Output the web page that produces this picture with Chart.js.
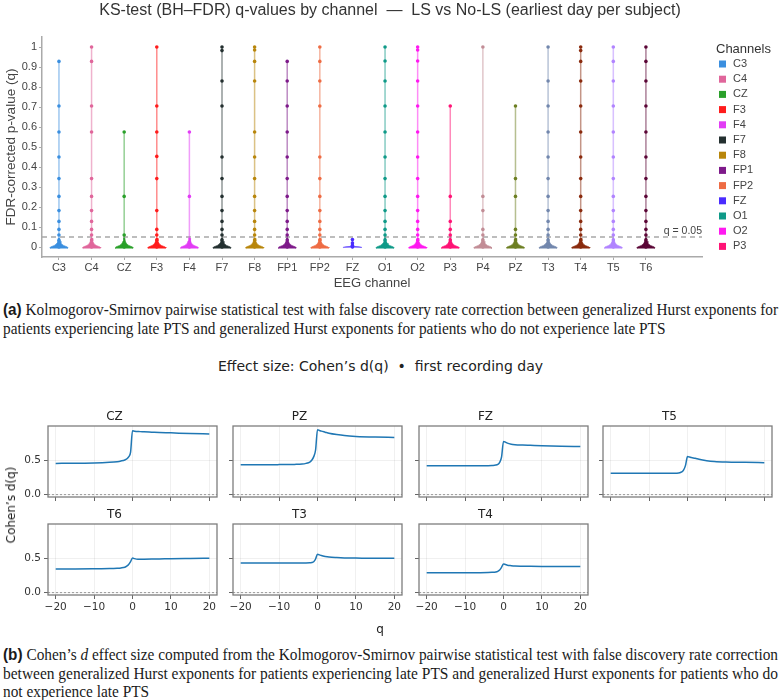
<!DOCTYPE html>
<html>
<head>
<meta charset="utf-8">
<script src="https://cdn.jsdelivr.net/npm/chart.js@4.4.1/dist/chart.umd.min.js"></script>
<style>
  body { margin: 0; background: #fff; }
  #page { position: relative; width: 780px; height: 700px; overflow: hidden; background: #fff; }
  .abs { position: absolute; }
  .cap { font-family: "Liberation Serif", "Times New Roman", serif; font-size: 17px; line-height: 18px;
         color: #1a1a1a; white-space: pre; transform-origin: 0 0; left: 3px; }
  .cap b { font-family: "Liberation Sans", Arial, sans-serif; font-weight: bold; }
  .mpl { font-family: "DejaVu Sans", sans-serif; color: #222; white-space: pre; }
</style>
</head>
<body>
<div id="page">
  <canvas id="topChart" class="abs" style="left:0;top:0" width="780" height="292"></canvas>

  <div id="capA1" class="abs cap" style="top:301px"><b>(a)</b> Kolmogorov-Smirnov pairwise statistical test with false discovery rate correction between generalized Hurst exponents for</div>
  <div id="capA2" class="abs cap" style="top:319.5px">patients experiencing late PTS and generalized Hurst exponents for patients who do not experience late PTS</div>

  <div id="supTitle" class="abs mpl" style="top:358px;font-size:14px;line-height:16px;transform-origin:0 0">Effect size: Cohen’s d(q)  •  first recording day</div>
  <div id="panels"></div>
  <div id="yLab" class="abs mpl" style="left:11px;top:505px;font-size:12px;transform:translate(-50%,-50%) rotate(-90deg)">Cohen’s d(q)</div>
  <div id="xLab" class="abs mpl" style="left:380px;top:629px;font-size:12px;transform:translate(-50%,-50%)">q</div>

  <div id="capB1" class="abs cap" style="top:646px"><b>(b)</b> Cohen’s <i>d</i> effect size computed from the Kolmogorov-Smirnov pairwise statistical test with false discovery rate correction</div>
  <div id="capB2" class="abs cap" style="top:664.5px">between generalized Hurst exponents for patients experiencing late PTS and generalized Hurst exponents for patients who do</div>
  <div id="capB3" class="abs cap" style="top:682.5px">not experience late PTS</div>
</div>

<script>
// ---- top panel: BH-FDR q-values per channel ----
const channels = ['C3', 'C4', 'CZ', 'F3', 'F4', 'F7', 'F8', 'FP1', 'FP2', 'FZ',
                  'O1', 'O2', 'P3', 'P4', 'PZ', 'T3', 'T4', 'T5', 'T6'];
const channelColors = ['#3b8fdf', '#e0669b', '#2aa02a', '#ff1c1c', '#e23cf5', '#243030', '#b8860b',
                       '#7e1a8a', '#ee6c44', '#4a2cff', '#0f9a88', '#ff19f0', '#ff1476', '#c28d96',
                       '#6d7f22', '#7287ad', '#8a2b0e', '#b184ff', '#5b0636'];

const qC3  = [0.928, 0.705, 0.575, 0.45, 0.342, 0.253, 0.182, 0.128, 0.088, 0.06, 0.033, 0.02, 0.01, 0.004, 0];
const qC4  = [1, 0.928, 0.705, 0.575, 0.342, 0.253, 0.182, 0.128, 0.088, 0.06, 0.035, 0.02, 0.01, 0.004, 0];
const qCZ  = [0.575, 0.253, 0.06, 0.012, 0.004, 0];
const qF3  = [1, 0.705, 0.575, 0.453, 0.342, 0.182, 0.088, 0.06, 0.035, 0.02, 0.01, 0.004, 0];
const qF4  = [0.575, 0.253, 0.025, 0.01, 0.004, 0];
const qF7  = [1, 0.982, 0.83, 0.705, 0.45, 0.342, 0.253, 0.182, 0.128, 0.088, 0.06, 0.035, 0.02, 0.01, 0.004, 0];
const qF8  = [1, 0.985, 0.928, 0.83, 0.575, 0.45, 0.342, 0.253, 0.182, 0.128, 0.088, 0.06, 0.035, 0.02, 0.01, 0.004, 0];
const qFP1 = [0.928, 0.83, 0.705, 0.575, 0.45, 0.342, 0.253, 0.182, 0.128, 0.088, 0.06, 0.035, 0.02, 0.01, 0.004, 0];
const qFP2 = [1, 0.928, 0.83, 0.705, 0.45, 0.342, 0.253, 0.182, 0.128, 0.088, 0.06, 0.035, 0.02, 0.01, 0.004, 0];
const qFZ  = [0.037, 0.02, 0.008, 0.003, 0];
const qO1  = [1, 0.93, 0.83, 0.705, 0.575, 0.45, 0.342, 0.253, 0.182, 0.128, 0.088, 0.06, 0.035, 0.02, 0.01, 0.004, 0];
const qO2  = [1, 0.985, 0.93, 0.83, 0.705, 0.575, 0.45, 0.342, 0.253, 0.182, 0.128, 0.088, 0.06, 0.035, 0.02, 0.01, 0.004, 0];
const qP3  = [0.705, 0.253, 0.128, 0.088, 0.06, 0.035, 0.02, 0.01, 0.004, 0];
const qP4  = [1, 0.253, 0.182, 0.088, 0.06, 0.035, 0.02, 0.01, 0.004, 0];
const qPZ  = [0.705, 0.342, 0.253, 0.088, 0.06, 0.035, 0.02, 0.01, 0.004, 0];
const qT3  = [1, 0.83, 0.705, 0.575, 0.45, 0.342, 0.253, 0.182, 0.128, 0.088, 0.06, 0.035, 0.02, 0.01, 0.004, 0];
const qT4  = [1, 0.982, 0.928, 0.83, 0.705, 0.575, 0.45, 0.342, 0.253, 0.182, 0.128, 0.088, 0.06, 0.035, 0.02, 0.01, 0.004, 0];
const qT5  = [1, 0.928, 0.83, 0.705, 0.575, 0.45, 0.342, 0.253, 0.182, 0.128, 0.088, 0.06, 0.035, 0.02, 0.01, 0.004, 0];
const qT6  = [1, 0.928, 0.83, 0.705, 0.575, 0.45, 0.342, 0.253, 0.182, 0.128, 0.088, 0.06, 0.035, 0.02, 0.01, 0.004, 0];
const channelQ = [qC3, qC4, qCZ, qF3, qF4, qF7, qF8, qFP1, qFP2, qFZ, qO1, qO2, qP3, qP4, qPZ, qT3, qT4, qT5, qT6];

// violin outline (half width in category units at each q level)
const violinQ    = [-0.008, -0.005, 0, 0.004, 0.008, 0.014, 0.02, 0.03, 0.045];
const violinHalf = [0.25, 0.28, 0.26, 0.2, 0.14, 0.09, 0.06, 0.035, 0.02];
const fzViolinQ    = [-0.003, -0.001, 0.001, 0.003, 0.006];
const fzViolinHalf = [0.27, 0.28, 0.2, 0.06, 0.02];

const qTicks = [0, 0.1, 0.2, 0.3, 0.4, 0.5, 0.6, 0.7, 0.8, 0.9, 1];
const qThreshold = 0.05;
const legendShown = 13; // legend in the source is cut after P3

const TOP_TITLE = 'KS-test (BH–FDR) q-values by channel  —  LS vs No-LS (earliest day per subject)';

function hexA(hex, a) {
    const n = parseInt(hex.slice(1), 16);
    return `rgba(${(n >> 16) & 255}, ${(n >> 8) & 255}, ${n & 255}, ${a})`;
}

function violinOutline(i, qs, hs) {
    const left = qs.map((q, k) => ({ x: i - hs[k], y: q }));
    const right = qs.map((q, k) => ({ x: i + hs[k], y: q })).reverse();
    return left.concat(right);
}

const topDatasets = [];
channels.forEach((ch, i) => {
    topDatasets.push({
        label: ch,
        data: channelQ[i].map(q => ({ x: i, y: q })),
        showLine: true,
        borderColor: hexA(channelColors[i], 0.5),
        borderWidth: 1.5,
        pointRadius: 1.8,
        pointBorderWidth: 0,
        pointBackgroundColor: channelColors[i],
        order: 0
    });
});
channels.forEach((ch, i) => {
    const isFZ = ch === 'FZ';
    topDatasets.push({
        label: ch + ' violin',
        data: violinOutline(i, isFZ ? fzViolinQ : violinQ, isFZ ? fzViolinHalf : violinHalf),
        showLine: true,
        fill: 'shape',
        backgroundColor: channelColors[i],
        borderColor: channelColors[i],
        borderWidth: 0.6,
        pointRadius: 0,
        tension: 0,
        order: 1
    });
});

const topDecor = {
    id: 'topDecor',
    beforeDatasetsDraw(chart) {
        const { ctx, chartArea, scales } = chart;
        const y = scales.y.getPixelForValue(qThreshold);
        ctx.save();
        ctx.strokeStyle = '#a8a8a8';
        ctx.lineWidth = 1.5;
        ctx.setLineDash([5, 4]);
        ctx.beginPath();
        ctx.moveTo(chartArea.left, y);
        ctx.lineTo(chartArea.right, y);
        ctx.stroke();
        ctx.restore();
    },
    afterDraw(chart) {
        const { ctx, chartArea, scales } = chart;
        ctx.save();
        // threshold label
        ctx.fillStyle = '#444';
        ctx.font = '10.5px "Liberation Sans", Arial, sans-serif';
        ctx.textAlign = 'right';
        ctx.textBaseline = 'bottom';
        ctx.fillText('q = ' + qThreshold, chartArea.right, scales.y.getPixelForValue(qThreshold) - 1);
        // figure title
        ctx.fillStyle = '#333';
        ctx.font = '16px "Liberation Sans", Arial, sans-serif';
        ctx.textAlign = 'center';
        ctx.textBaseline = 'middle';
        ctx.fillText(TOP_TITLE, 390, 11);
        // legend
        ctx.textAlign = 'left';
        ctx.fillStyle = '#333';
        ctx.font = '13px "Liberation Sans", Arial, sans-serif';
        ctx.fillText('Channels', 716, 49);
        ctx.font = '11px "Liberation Sans", Arial, sans-serif';
        for (let k = 0; k < legendShown; k++) {
            const yy = 64 + k * 15.2;
            ctx.fillStyle = channelColors[k];
            ctx.fillRect(719, yy - 3.5, 7, 7);
            ctx.fillStyle = '#444';
            ctx.fillText(channels[k], 733, yy);
        }
        ctx.restore();
    }
};

new Chart(document.getElementById('topChart'), {
    type: 'scatter',
    data: { datasets: topDatasets },
    plugins: [topDecor],
    options: {
        responsive: false,
        animation: false,
        layout: { padding: { left: 0, right: 78, top: 37, bottom: 0 } },
        plugins: { legend: { display: false }, tooltip: { enabled: false }, title: { display: false } },
        scales: {
            x: {
                type: 'linear', min: -0.52, max: 19.72,
                afterBuildTicks: s => { s.ticks = channels.map((c, i) => ({ value: i })); },
                afterFit: s => { s.height = 35; },
                ticks: {
                    callback: v => channels[v], autoSkip: false, maxRotation: 0, padding: 1,
                    color: '#444', font: { size: 11, family: '"Liberation Sans", Arial, sans-serif' }
                },
                grid: { drawOnChartArea: false, tickLength: 3, tickColor: '#aaa' },
                border: { color: '#aaa', width: 1.5 },
                title: {
                    display: true, text: 'EEG channel', color: '#444',
                    font: { size: 13, family: '"Liberation Sans", Arial, sans-serif' },
                    padding: { top: 0, bottom: 1.2 }
                }
            },
            y: {
                min: -0.05, max: 1.05,
                afterBuildTicks: s => { s.ticks = qTicks.map(v => ({ value: v })); },
                afterFit: s => { s.width = 42; },
                ticks: {
                    callback: v => String(v), padding: 2,
                    color: '#444', font: { size: 11, family: '"Liberation Sans", Arial, sans-serif' }
                },
                grid: { drawOnChartArea: false, tickLength: 3, tickColor: '#aaa' },
                border: { color: '#aaa', width: 1.5 },
                title: {
                    display: true, text: 'FDR-corrected p-value (q)', color: '#444',
                    font: { size: 13.5, family: '"Liberation Sans", Arial, sans-serif' },
                    padding: { top: 3, bottom: 0 }
                }
            }
        }
    }
});

// ---- bottom panels: Cohen's d(q) on the first recording day ----
const panelNames = ['CZ', 'PZ', 'FZ', 'T5', 'T6', 'T3', 'T4'];
const qGrid = [-20, -15, -10, -6, -4, -3, -2, -1.5, -1, -0.5, 0, 0.5, 1, 2, 3, 5, 7, 10, 15, 20];
const dCZ = [0.455, 0.457, 0.46, 0.47, 0.48, 0.49, 0.505, 0.52, 0.55, 0.62, 0.93, 0.925, 0.92, 0.918, 0.915, 0.91, 0.905, 0.9, 0.89, 0.885];
const dPZ = [0.435, 0.435, 0.437, 0.44, 0.445, 0.455, 0.475, 0.5, 0.55, 0.65, 0.945, 0.935, 0.925, 0.91, 0.895, 0.875, 0.86, 0.848, 0.838, 0.833];
const dFZ = [0.42, 0.42, 0.42, 0.42, 0.422, 0.425, 0.43, 0.44, 0.47, 0.55, 0.775, 0.765, 0.75, 0.735, 0.728, 0.722, 0.718, 0.712, 0.705, 0.7];
const dT5 = [0.31, 0.31, 0.31, 0.31, 0.31, 0.312, 0.318, 0.33, 0.36, 0.43, 0.554, 0.548, 0.54, 0.53, 0.515, 0.495, 0.483, 0.475, 0.47, 0.466];
const dT6 = [0.345, 0.345, 0.347, 0.35, 0.355, 0.36, 0.37, 0.385, 0.41, 0.45, 0.505, 0.495, 0.488, 0.485, 0.486, 0.488, 0.49, 0.495, 0.498, 0.5];
const dT3 = [0.433, 0.433, 0.433, 0.433, 0.433, 0.433, 0.434, 0.438, 0.45, 0.49, 0.56, 0.55, 0.54, 0.527, 0.518, 0.51, 0.505, 0.503, 0.5, 0.5];
const dT4 = [0.29, 0.29, 0.29, 0.29, 0.292, 0.295, 0.3, 0.31, 0.33, 0.37, 0.418, 0.41, 0.4, 0.393, 0.388, 0.385, 0.383, 0.381, 0.38, 0.38];
const panelD = [dCZ, dPZ, dFZ, dT5, dT6, dT3, dT4];
const qAxisTicks = [-20, -10, 0, 10, 20];
const dAxisTicks = [0, 0.5];

const PANEL_LEFTS = [48, 233, 419, 603];
const PANEL_TOPS = [426, 524];
const PANEL_W = 169, PANEL_H = 71;
const Y_AXIS_W = 36, TITLE_H = 16, RIGHT_PAD = 10;

const panelDecor = {
    id: 'panelDecor',
    beforeDatasetsDraw(chart) {
        const { ctx, chartArea, scales } = chart;
        const y0 = scales.y.getPixelForValue(0);
        ctx.save();
        ctx.strokeStyle = '#9a9a9a';
        ctx.lineWidth = 1;
        ctx.setLineDash([2, 2]);
        ctx.beginPath();
        ctx.moveTo(chartArea.left, y0);
        ctx.lineTo(chartArea.right, y0);
        ctx.stroke();
        ctx.restore();
    },
    afterDraw(chart) {
        const { ctx, chartArea } = chart;
        ctx.save();
        ctx.strokeStyle = '#7d7d7d';
        ctx.lineWidth = 1.3;
        ctx.strokeRect(chartArea.left, chartArea.top, chartArea.right - chartArea.left, chartArea.bottom - chartArea.top);
        ctx.restore();
    }
};

const mplFont = '"DejaVu Sans", sans-serif';

panelNames.forEach((name, k) => {
    const col = k % 4, row = Math.floor(k / 4);
    const xAxisH = row === 1 ? 22 : 10;
    const canvas = document.createElement('canvas');
    canvas.className = 'abs';
    canvas.width = Y_AXIS_W + PANEL_W + RIGHT_PAD;
    canvas.height = TITLE_H + PANEL_H + xAxisH;
    canvas.style.left = (PANEL_LEFTS[col] - Y_AXIS_W) + 'px';
    canvas.style.top = (PANEL_TOPS[row] - TITLE_H) + 'px';
    document.getElementById('panels').appendChild(canvas);

    new Chart(canvas, {
        type: 'scatter',
        data: {
            datasets: [{
                label: name,
                data: qGrid.map((q, j) => ({ x: q, y: panelD[k][j] })),
                showLine: true,
                borderColor: '#1f77b4',
                borderWidth: 1.5,
                pointRadius: 0,
                cubicInterpolationMode: 'monotone'
            }]
        },
        plugins: [panelDecor],
        options: {
            responsive: false,
            animation: false,
            layout: { padding: { left: 0, right: RIGHT_PAD, top: 0, bottom: 0 } },
            plugins: {
                legend: { display: false },
                tooltip: { enabled: false },
                title: {
                    display: true, text: name, color: '#222',
                    font: { size: 12, family: mplFont, weight: 'normal' },
                    padding: { top: 0, bottom: 1.6 }
                }
            },
            scales: {
                x: {
                    type: 'linear', min: -22, max: 22,
                    afterBuildTicks: s => { s.ticks = qAxisTicks.map(v => ({ value: v })); },
                    afterFit: s => { s.height = xAxisH; },
                    ticks: {
                        display: row === 1, autoSkip: false, maxRotation: 0, padding: 2,
                        callback: v => String(v).replace('-', '\u2212'),
                        color: '#333', font: { size: 10.5, family: mplFont }
                    },
                    grid: { color: 'rgba(0,0,0,0.06)', tickLength: 4, tickColor: '#666' },
                    border: { display: false }
                },
                y: {
                    min: -0.035, max: 1.0,
                    afterBuildTicks: s => { s.ticks = dAxisTicks.map(v => ({ value: v })); },
                    afterFit: s => { s.width = Y_AXIS_W; },
                    ticks: {
                        display: col === 0, padding: 3,
                        callback: v => v.toFixed(1),
                        color: '#333', font: { size: 10.5, family: mplFont }
                    },
                    grid: { color: 'rgba(0,0,0,0.06)', tickLength: 4, tickColor: '#666' },
                    border: { display: false }
                }
            }
        }
    });
});

// ---- squeeze caption lines to the widths used in the source figure ----
function fitWidth(id, target) {
    const el = document.getElementById(id);
    const s = target / el.getBoundingClientRect().width;
    el.style.transform = `scaleX(${s})`;
    return s;
}
function applyScale(id, s) {
    document.getElementById(id).style.transform = `scaleX(${s})`;
}
const sA = fitWidth('capA1', 775);
applyScale('capA2', sA);
const sB = fitWidth('capB1', 775);
fitWidth('capB2', 775);
applyScale('capB3', sB);

const sup = document.getElementById('supTitle');
fitWidth('supTitle', 325);
sup.style.left = (380 - 325 / 2) + 'px';
</script>
</body>
</html>
